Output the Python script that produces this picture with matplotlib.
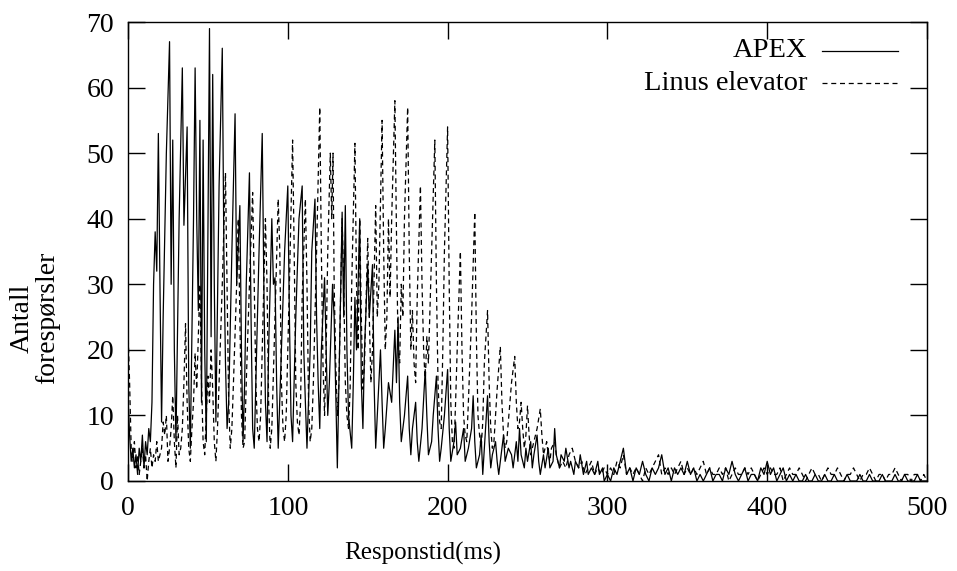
import numpy as np
import matplotlib
matplotlib.use('Agg')
import matplotlib.pyplot as plt
from matplotlib.lines import Line2D

plt.rcParams['font.family'] = ['Liberation Serif', 'DejaVu Serif']

series_names = ['APEX', 'Linus elevator']

# APEX: peaks and troughs (ms, number of requests)
apex_x = [0, 1, 2, 3, 4, 5, 6, 7, 8, 9, 10, 11, 12, 13, 14, 15, 16, 17, 18, 19,
          20, 21, 22, 24, 26, 27, 28, 29, 30, 32, 34, 35, 37, 38, 39, 41, 42, 43, 44, 45,
          46, 47, 48, 49, 51, 52, 53, 54, 55, 57, 59, 60, 61, 62, 63, 65, 67, 68, 70, 71,
          72, 73, 74, 76, 77, 78, 79, 81, 82, 84, 85, 86, 87, 88, 90, 91, 92, 93, 94, 96,
          98, 100, 101, 102, 103, 105, 107, 109, 110, 111, 112, 114, 115, 117, 118, 119, 120, 121, 123, 124,
          125, 126, 128, 129, 131, 132, 134, 135, 136, 137, 138, 140, 141, 142, 143, 145, 146, 147, 148, 150,
          151, 153, 154, 155, 156, 158, 159, 160, 161, 163, 165, 167, 168, 169, 170, 171, 173, 175, 176, 177,
          178, 180, 181, 182, 184, 186, 187, 188, 190, 191, 193, 194, 195, 196, 198, 200, 201, 202, 204, 205,
          206, 208, 210, 211, 213, 215, 216, 217, 218, 220, 221, 222, 223, 225, 226, 227, 228, 230, 231, 232,
          234, 235, 236, 238, 240, 241, 243, 244, 245, 246, 248, 249, 250, 252, 253, 254, 256, 257, 258, 260,
          261, 263, 264, 266, 267, 268, 270, 271, 273, 274, 276, 277, 279, 280, 282, 283, 285, 287, 288, 290,
          292, 294, 295, 297, 298]
apex_y = [13, 7, 3, 5, 2, 4, 1, 5, 3, 7, 2, 6, 4, 8, 6, 12, 30, 38, 32, 53,
          30, 9, 25, 50, 67, 30, 52, 20, 6, 40, 63, 39, 54, 15, 5, 40, 63, 40, 26, 55,
          12, 52, 20, 6, 69, 22, 62, 30, 9, 45, 66, 35, 18, 8, 12, 35, 56, 30, 42, 20,
          6, 15, 30, 47, 25, 8, 5, 25, 35, 53, 30, 12, 6, 20, 40, 30, 31, 15, 5, 20,
          35, 45, 25, 10, 6, 25, 40, 45, 20, 12, 5, 20, 35, 43, 25, 15, 8, 20, 31, 20,
          10, 15, 30, 25, 2, 15, 41, 25, 42, 20, 10, 5, 15, 28, 20, 40, 15, 8, 20, 33,
          25, 33, 15, 5, 10, 20, 12, 5, 8, 15, 12, 23, 15, 25, 12, 6, 10, 16, 8, 4,
          8, 12, 6, 3, 8, 17, 10, 4, 6, 10, 16, 8, 3, 5, 10, 17, 8, 3, 6, 9,
          4, 5, 8, 3, 5, 8, 13, 6, 2, 4, 7, 1, 5, 13, 6, 2, 4, 6, 3, 1,
          5, 7, 3, 5, 4, 2, 6, 3, 8, 4, 2, 5, 3, 6, 2, 4, 7, 3, 1, 4,
          2, 5, 2, 3, 8, 4, 2, 4, 3, 5, 2, 3, 1, 3, 2, 4, 1, 3, 1, 2,
          1, 3, 1, 2, 0]
# APEX tail, every 2 ms from 300 to 500
apex_tail = [1, 0, 2, 1, 3, 5, 1, 2, 0, 2, 1, 3, 1, 0, 2, 1, 2, 4, 1, 2,
             0, 2, 1, 2, 1, 3, 1, 2, 0, 1, 0, 1, 2, 0, 1, 1, 0, 2, 1, 3,
             1, 0, 1, 2, 0, 1, 1, 0, 2, 1, 3, 1, 2, 0, 1, 2, 0, 1, 0, 1,
             0, 0, 1, 0, 0, 1, 0, 0, 1, 0, 0, 1, 0, 0, 0, 1, 0, 0, 0, 1,
             0, 0, 1, 0, 0, 0, 1, 0, 0, 0, 1, 0, 0, 1, 0, 0, 0, 1, 0, 0, 0]

# Linus elevator: peaks and troughs
linus_x = [0, 1, 2, 3, 4, 5, 6, 7, 8, 9, 10, 11, 12, 13, 14, 15, 16, 17, 18, 19,
           20, 21, 22, 23, 24, 25, 26, 27, 28, 29, 30, 31, 32, 33, 34, 35, 36, 37, 38, 39,
           40, 41, 42, 43, 44, 45, 46, 47, 48, 49, 50, 51, 52, 53, 54, 55, 56, 57, 59, 61,
           62, 63, 64, 65, 66, 68, 69, 70, 71, 72, 73, 74, 76, 78, 79, 80, 81, 82, 83, 84,
           86, 87, 88, 89, 90, 92, 94, 95, 96, 97, 98, 99, 101, 103, 104, 105, 106, 107, 108, 109,
           111, 112, 113, 114, 115, 116, 118, 120, 121, 122, 123, 124, 125, 126.6, 127.5, 128.3, 129, 130, 131, 132,
           134, 135, 136, 137, 138, 139, 140, 142, 143, 144, 145, 146, 147, 148, 150, 151, 152, 153, 155, 156,
           157, 159, 160, 161, 162, 163, 164, 165, 167, 168, 169, 170, 171, 172, 173, 175, 176, 177, 178, 179,
           180, 181, 183, 184, 185, 186, 187, 188, 190, 192, 193, 194, 195, 196, 197, 198, 200, 201, 202, 203,
           204, 205, 206, 208, 209, 210, 211, 212, 213, 215, 217, 218, 219, 220, 221, 222, 223, 225, 226, 227,
           228, 229, 230, 231, 233, 234, 235, 236, 237, 238, 240, 242, 243, 244, 245, 246, 247, 248, 249, 250,
           251, 252, 253, 254, 256, 258, 259, 260, 261, 262, 263, 264, 265, 267, 268, 269, 270]
linus_y = [23, 15, 5, 3, 6, 2, 4, 1, 3, 5, 2, 4, 0, 3, 5, 2, 4, 3, 6, 3,
           4, 5, 9, 7, 10, 3, 5, 8, 13, 6, 2, 10, 4, 5, 8, 15, 24, 12, 5, 3,
           8, 12, 19.5, 14, 22, 30, 15, 6, 4, 10, 16, 12, 20, 14, 6, 3, 8, 15, 30, 47,
           30, 12, 5, 8, 15, 30, 40, 25, 10, 5, 6, 15, 30, 44, 30, 15, 8, 6, 10, 20,
           40, 30, 12, 5, 8, 25, 43, 35, 15, 8, 6, 10, 30, 52, 35, 15, 9, 7, 12, 28,
           43, 30, 12, 6, 8, 15, 35, 57, 35, 18, 10, 20, 35, 50, 40, 50, 30, 18, 10, 15,
           40, 30, 15, 10, 8, 14, 30, 51.5, 30, 20, 40, 25, 14, 18, 37, 25, 15, 20, 42, 25,
           30, 55, 35, 20, 25, 40, 28, 40, 58, 38, 20, 18, 30, 25, 40, 57, 35, 20, 26, 18,
           15, 28, 45, 30, 20, 15, 22, 18, 35, 52, 30, 15, 9, 8, 20, 35, 54, 30, 12, 6,
           5, 12, 20, 35, 20, 10, 7, 6, 12, 25, 41, 22, 10, 7, 5, 9, 18, 26, 15, 8,
           5, 6, 10, 14, 20.5, 12, 7, 5, 6, 9, 15, 19, 12, 8, 9, 12, 8, 5, 7, 11.5,
           7, 4, 5, 6, 8, 11, 7, 4, 5, 6, 4, 3, 5, 6, 4, 3, 2]
# Linus tail, every 2 ms from 272 to 500
linus_tail = [3, 2, 4, 5, 3, 2, 3, 1, 2, 3, 1, 2, 1, 2, 1, 2, 1, 3, 2, 4,
              1, 2, 1, 2, 1, 0, 2, 1, 2, 3, 4, 1, 2, 1, 2, 1, 2, 3, 1, 2,
              1, 2, 1, 2, 3, 1, 2, 1, 1, 2, 1, 2, 0, 1, 2, 1, 1, 2, 1, 2,
              1, 0, 1, 2, 1, 2, 1, 1, 2, 0, 1, 2, 1, 1, 2, 1, 0, 1, 2, 1,
              1, 0, 1, 2, 1, 1, 2, 1, 0, 1, 1, 2, 1, 0, 1, 1, 2, 1, 0, 1,
              1, 0, 1, 1, 2, 1, 0, 1, 1, 0, 1, 1, 0, 1, 0]

apex_x_all = apex_x + list(range(300, 501, 2))
apex_y_all = apex_y + apex_tail
linus_x_all = linus_x + list(range(272, 501, 2))
linus_y_all = linus_y + linus_tail

fig = plt.figure(figsize=(9.57, 5.71), dpi=100)
ax = fig.add_axes([128/957, 1 - 481/571, 799/957, 459/571])

dash = (0, (4, 3))
ax.plot(apex_x_all, apex_y_all, color='black', lw=0.9)
ax.plot(linus_x_all, linus_y_all, color='black', lw=0.9, linestyle=dash)

ax.set_xlim(0, 500)
ax.set_ylim(0, 70)
ax.set_xticks(np.arange(0, 501, 100))
ax.set_yticks(np.arange(0, 71, 10))
ax.tick_params(direction='in', length=12, width=1, top=True, right=True,
               labelsize=20)
ax.tick_params(axis='x', pad=11)
ax.tick_params(axis='y', pad=10)
for s in ax.spines.values():
    s.set_linewidth(1)

ax.set_xlabel('Responstid(ms)', fontsize=18)
ax.xaxis.set_label_coords(0.369, -0.133)
ax.set_ylabel('Antall\nforespørsler', fontsize=20, linespacing=1.0)
ax.yaxis.set_label_coords(-0.085, 0.355)

# gnuplot style key: right-justified text, sample on the right
for i, (name, ls) in enumerate(zip(series_names, ['-', dash])):
    yk = 0.937 - i * 0.07
    ax.text(0.850, yk, name, transform=ax.transAxes, ha='right', va='center', fontsize=20.5)
    ax.add_line(Line2D([0.8686, 0.9637], [yk, yk], transform=ax.transAxes,
                       color='black', lw=0.9, linestyle=ls))

fig.savefig('out.png', dpi=100)
